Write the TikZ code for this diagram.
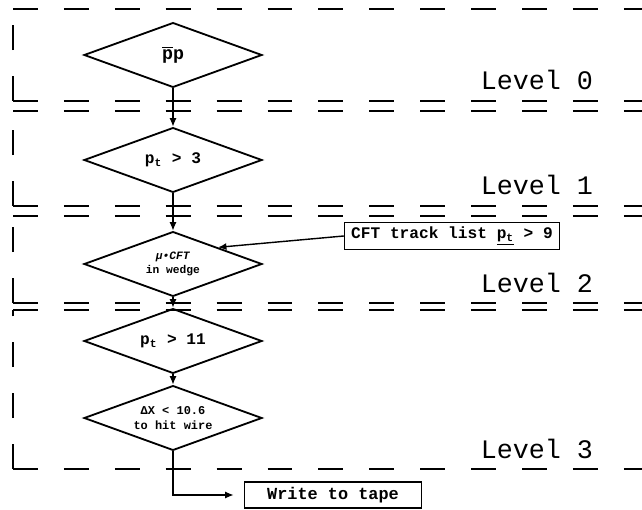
\documentclass[tikz,border=0pt]{standalone}
\usepackage{fontspec}
\setmonofont{Liberation Mono}
\usetikzlibrary{arrows.meta, shapes.geometric}

\tikzset{
  levelline/.style={line width=1.1pt, dash pattern=on 17.7pt off 18.5pt},
  cut/.style={diamond, aspect=2.75, draw, line width=1.3pt, minimum width=4.45cm, minimum height=1.62cm,
    inner sep=0pt, align=center, font=\fontsize{11.5}{13}\selectfont\ttfamily\bfseries},
  listbox/.style={rectangle, draw, line width=1pt, inner sep=0pt, font=\fontsize{11.5}{13}\selectfont\ttfamily\bfseries},
  flow/.style={line width=1pt, -{Latex[length=6pt, width=5pt]}},
  levellabel/.style={anchor=base east, font=\fontsize{19}{22}\selectfont\ttfamily}
}

\begin{document}
\begin{tikzpicture}[x=0.025cm, y=-0.025cm]
  \useasboundingbox (0,0) rectangle (642,510);

  % trigger levels: dashed frames open to the right
  \foreach \ya/\yb/\lv in {9/101/0, 111/206/1, 216/303/2, 310/469/3} {
    \draw[levelline] (13,\yb) -- (13,\ya);
    \draw[levelline] (13,\ya) -- (660,\ya);
    \draw[levelline] (13,\yb) -- (660,\yb);
    \node[levellabel] (lv\lv) at (598,\yb-11) {Level \lv};
  }

  % cuts
  \node[cut, font=\fontsize{13}{15}\selectfont\ttfamily\bfseries] (pp) at (173,55) {$\overline{\mbox{p}}$p};
  \node[cut] (pt3) at (173,160) {p\textsubscript{t} > 3};
  \node[cut, font=\fontsize{8}{9.5}\selectfont\ttfamily\bfseries] (wedge) at (173,264) {\textit{μ•CFT}\\in wedge};
  \node[cut] (pt11) at (173,341) {p\textsubscript{t} > 11};
  \node[cut, font=\fontsize{8.5}{11}\selectfont\ttfamily\bfseries] (hit) at (173,418) {ΔX < 10.6\\to hit wire};

  \node[listbox, minimum width=5.375cm, minimum height=0.675cm] (cft) at (452,236) {CFT track list \underline{p\textsubscript{t}} > 9};
  \node[listbox, font=\fontsize{12}{14}\selectfont\ttfamily\bfseries, minimum width=4.43cm, minimum height=0.65cm] (tape) at (333,495) {Write to tape};

  % flow between the cuts
  \draw[flow] (pp) -- (pt3);
  \draw[flow] (pt3) -- (wedge);
  \draw[flow] (wedge) -- (pt11);
  \draw[flow] (pt11) -- (hit);
  \draw[flow, shorten >=0.25cm] (hit.south) |- (tape.west);
  \draw[flow] (cft.west) -- (wedge.north east);
\end{tikzpicture}
\end{document}
